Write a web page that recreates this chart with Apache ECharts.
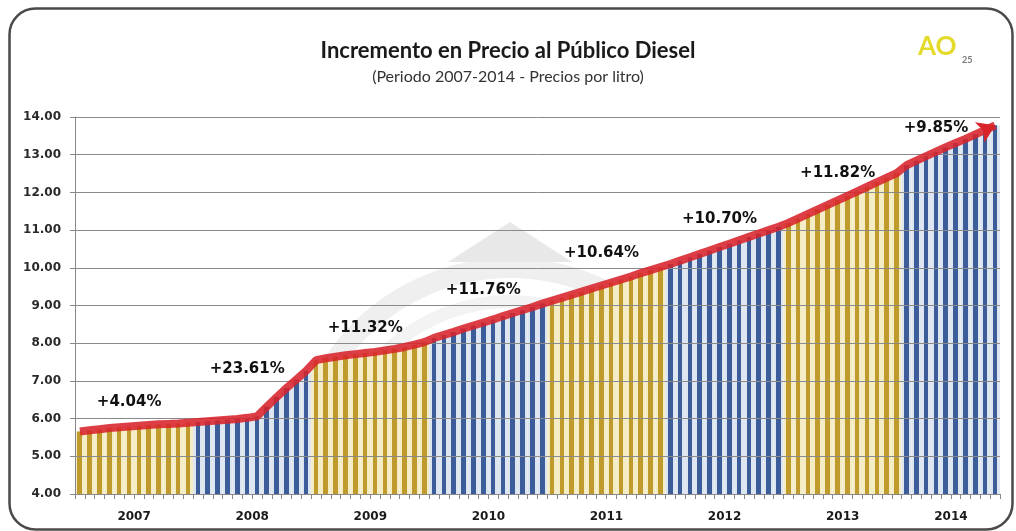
<!DOCTYPE html>
<html>
<head>
    <meta charset="utf-8">
</head>
<body style="margin: 0; background: #fff">
    <div id="container" style="width: 1016px; height: 531px"></div>
    <script src="https://cdn.jsdelivr.net/npm/echarts@6/dist/echarts.min.js"></script>
    <script type="text/javascript">
        // precio mensual del diesel (pesos por litro)
        var years = ['2007', '2008', '2009', '2010', '2011', '2012', '2013', '2014'];
        var meses = ['Ene', 'Feb', 'Mar', 'Abr', 'May', 'Jun', 'Jul', 'Ago', 'Sep', 'Oct', 'Nov', 'Dic'];
        var p2007 = [5.66, 5.69, 5.72, 5.75, 5.77, 5.79, 5.81, 5.83, 5.85, 5.86, 5.87, 5.89];
        var p2008 = [5.91, 5.93, 5.95, 5.97, 5.99, 6.02, 6.06, 6.32, 6.57, 6.81, 7.04, 7.27];
        var p2009 = [7.55, 7.60, 7.64, 7.68, 7.71, 7.74, 7.77, 7.81, 7.85, 7.90, 7.96, 8.03];
        var p2010 = [8.14, 8.22, 8.30, 8.39, 8.47, 8.55, 8.63, 8.72, 8.80, 8.88, 8.96, 9.05];
        var p2011 = [9.13, 9.21, 9.29, 9.37, 9.45, 9.53, 9.61, 9.69, 9.77, 9.86, 9.94, 10.02];
        var p2012 = [10.10, 10.19, 10.28, 10.37, 10.46, 10.55, 10.64, 10.73, 10.82, 10.91, 11.00, 11.09];
        var p2013 = [11.19, 11.31, 11.43, 11.55, 11.67, 11.79, 11.91, 12.03, 12.15, 12.27, 12.39, 12.51];
        var p2014 = [12.72, 12.84, 12.96, 13.08, 13.20, 13.31, 13.42, 13.54, 13.66, 13.78];
        var incrementos = ['+4.04%', '+23.61%', '+11.32%', '+11.76%', '+10.64%', '+10.70%', '+11.82%', '+9.85%'];
        var yTicks = [4, 5, 6, 7, 8, 9, 10, 11, 12, 13, 14];

        // altura (en pesos) donde va cada etiqueta de incremento
        var nivelEtiqueta = [6.44, 7.30, 8.40, 9.41, 10.39, 11.28, 12.50, 13.70];

        var porAnio = [p2007, p2008, p2009, p2010, p2011, p2012, p2013, p2014];

        var categorias = [];
        var barras = [];
        var linea = [];
        var etiquetas = [];
        var posAnio = {};
        var pareja = [
            ['#f4ecc4', '#bf9a2c'],
            ['#dde5f1', '#3c5c9a']
        ];
        porAnio.forEach(function (arr, yi) {
            var inicio = categorias.length;
            var c = pareja[yi % 2];
            var grad = {
                type: 'linear', x: 0, y: 0, x2: 1, y2: 0,
                colorStops: [
                    { offset: 0, color: c[0] }, { offset: 0.25, color: c[0] },
                    { offset: 0.25, color: c[1] }, { offset: 0.72, color: c[1] },
                    { offset: 0.72, color: c[0] }, { offset: 1, color: c[0] }
                ]
            };
            arr.forEach(function (v, m) {
                categorias.push(meses[m] + ' ' + years[yi]);
                barras.push({ value: v, itemStyle: { color: grad } });
                linea.push(v);
            });
            posAnio[inicio + Math.floor((arr.length - 1) / 2)] = years[yi];
            // la etiqueta va siete meses antes del cierre del año
            etiquetas.push({ value: [inicio + arr.length - 7, nivelEtiqueta[yi]], name: incrementos[yi] });
        });
        // punta de flecha al final de la linea
        linea[linea.length - 1] = {
            value: linea[linea.length - 1],
            symbol: 'arrow',
            symbolSize: [17, 17],
            symbolRotate: -65,
            itemStyle: { color: '#d8232b' }
        };

        var dom = document.getElementById('container');
        var myChart = echarts.init(dom);

        var option = {
            backgroundColor: '#fff',
            animation: false,
            title: {
                text: 'Incremento en Precio al Público Diesel',
                subtext: '(Periodo 2007-2014 - Precios por litro)',
                left: 'center',
                top: 35,
                itemGap: 7,
                textStyle: { fontFamily: 'Lato', fontSize: 22, fontWeight: 'bold', color: '#1a1a1a' },
                subtextStyle: { fontFamily: 'Lato', fontSize: 16, color: '#333' }
            },
            graphic: [
                {
                    type: 'rect', left: 7, top: 6,
                    shape: { width: 1003, height: 521, r: 26 },
                    style: { fill: 'none', stroke: '#4a4a4a', lineWidth: 2.5 }, z: -10
                },
                {
                    type: 'sector', z: -5,
                    shape: { cx: 510, cy: 480, r: 222, r0: 202, startAngle: -2.75, endAngle: -0.39 },
                    style: { fill: '#efefef' }
                },
                {
                    type: 'sector', z: -5,
                    shape: { cx: 510, cy: 480, r: 185, r0: 172, startAngle: -2.6, endAngle: -0.54 },
                    style: { fill: '#f3f3f3' }
                },
                {
                    type: 'polygon', z: -5,
                    shape: { points: [[510, 222], [448, 262], [572, 262]] },
                    style: { fill: '#e8e8e8' }
                },
                {
                    type: 'text', left: 918, top: 34,
                    style: { text: 'AO', fontFamily: 'Lato', fontSize: 26, fontWeight: 'bold', fill: '#e4da2a' }
                },
                {
                    type: 'text', left: 962, top: 56,
                    style: { text: '25', fontFamily: 'Lato', fontSize: 9, fontWeight: 'bold', fill: '#777' }
                }
            ],
            grid: { left: 75, right: 16, top: 117, bottom: 37 },
            xAxis: {
                type: 'category',
                data: categorias,
                boundaryGap: true,
                axisLine: { lineStyle: { color: '#888' } },
                axisTick: { show: true, interval: 0, length: 5, lineStyle: { color: '#888' } },
                axisLabel: {
                    interval: function (i) { return posAnio[i] !== undefined; },
                    formatter: function (v, i) { return posAnio[i] || ''; },
                    padding: [0, 0, 0, 10],
                    margin: 17,
                    fontFamily: 'DejaVu Sans',
                    fontWeight: 'bold',
                    fontSize: 12,
                    color: '#1a1a1a'
                }
            },
            yAxis: {
                type: 'value',
                min: yTicks[0],
                max: yTicks[yTicks.length - 1],
                interval: 1,
                z: 3,
                axisLine: { show: true, lineStyle: { color: '#888' } },
                axisTick: { show: true, length: 5, lineStyle: { color: '#888' } },
                splitLine: { lineStyle: { color: '#8a8a8a', width: 1 } },
                axisLabel: {
                    formatter: function (v) { return v.toFixed(2); },
                    fontFamily: 'DejaVu Sans',
                    fontWeight: 'bold',
                    fontSize: 12,
                    color: '#2a2a2a',
                    margin: 14
                }
            },
            series: [
                {
                    type: 'bar',
                    data: barras,
                    barCategoryGap: '0%',
                    z: 2
                },
                {
                    type: 'line',
                    data: linea,
                    symbol: 'none',
                    showSymbol: true,
                    showAllSymbol: true,
                    lineStyle: { color: 'rgba(216,35,43,0.88)', width: 8 },
                    z: 6
                },
                {
                    type: 'scatter',
                    data: etiquetas,
                    symbolSize: 1,
                    z: 7,
                    itemStyle: { opacity: 1, color: 'rgba(0,0,0,0)' },
                    label: {
                        show: true,
                        position: 'inside',
                        formatter: '{b}',
                        fontFamily: 'DejaVu Sans',
                        fontWeight: 'bold',
                        fontSize: 15,
                        color: '#111',
                        textBorderWidth: 0
                    }
                }
            ]
        };

        myChart.setOption(option);
    </script>
</body>
</html>
